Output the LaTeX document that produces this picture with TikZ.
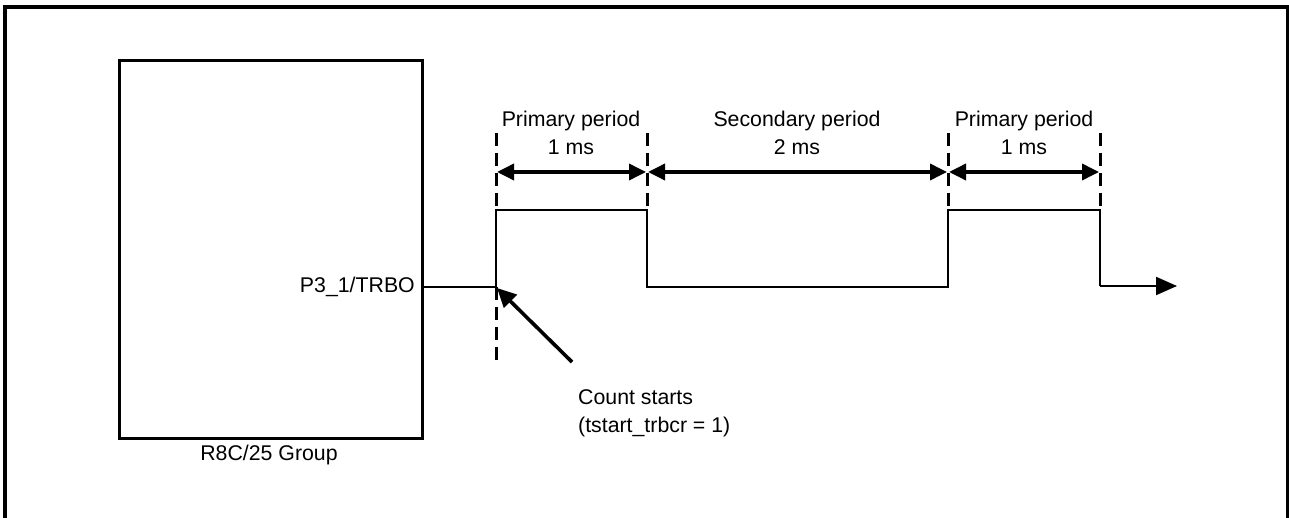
\documentclass[tikz,border=0pt]{standalone}
\usepackage{fontspec}
\setmainfont{Liberation Sans}
\usetikzlibrary{arrows.meta}
\begin{document}
\begin{tikzpicture}[x=1pt,y=-1pt,
  txt/.style={font=\fontsize{21.3}{25}\selectfont, inner sep=0pt},
  sig/.style={line width=2pt},
  dsh/.style={line width=3pt, dash pattern=on 13pt off 7pt},
  dim/.style={line width=3.6pt, {Triangle[length=17pt,width=16pt]}-{Triangle[length=17pt,width=16pt]}},
  ptr/.style={line width=3.6pt, -{Triangle[length=19pt,width=18pt]}}]
\useasboundingbox (0,0) rectangle (1289,518);
% outer frame (open at bottom)
\draw[line width=3.4pt] (5,520) -- (5,7) -- (1288,7) -- (1288,520);
% device box
\node[draw, line width=3pt, minimum width=303pt, minimum height=378pt, inner sep=0pt, anchor=north west] (dev) at (118,59) {};
\node[txt] (devlbl) at (269,455) {R8C/25 Group};
\node[txt, anchor=east] (pin) at (415,287) {P3\_1/TRBO};
% waveform coordinates
\coordinate (p0) at (421,287);
\coordinate (a) at (496,287);
\coordinate (b) at (496,210);
\coordinate (c) at (647,210);
\coordinate (d) at (647,287);
\coordinate (e) at (948,287);
\coordinate (f) at (948,210);
\coordinate (g) at (1100,210);
\coordinate (h) at (1100,286);
\coordinate (end) at (1177,286);
\draw[sig] (p0) -- (a) -- (b) -- (c) -- (d) -- (e) -- (f) -- (g) -- (h);
\draw[sig, -{Triangle[length=21pt,width=18pt]}] (h) -- (end);
% dashed markers
\coordinate (t1) at (496,133);
\coordinate (t2) at (647,133);
\coordinate (t3) at (948,133);
\coordinate (t4) at (1100,133);
\coordinate (lo) at (496,362);
\draw[dsh] (t1) -- (b);
\draw[dsh] (a) -- (lo);
\draw[dsh] (t2) -- (c);
\draw[dsh] (t3) -- (f);
\draw[dsh] (t4) -- (g);
% dimension arrows
\coordinate (m1) at (497,172);
\coordinate (m2) at (646,172);
\coordinate (m3) at (648,172);
\coordinate (m4) at (947,172);
\coordinate (m5) at (949,172);
\coordinate (m6) at (1099,172);
\draw[dim] (m1) -- (m2);
\draw[dim] (m3) -- (m4);
\draw[dim] (m5) -- (m6);
% labels
\node[txt, align=center] (l1) at (571,133) {Primary period\\[3pt]1 ms};
\node[txt, align=center] (l2) at (797,133) {Secondary period\\[3pt]2 ms};
\node[txt, align=center] (l3) at (1024,133) {Primary period\\[3pt]1 ms};
% count starts
\coordinate (cs) at (572,362);
\draw[ptr] (cs) -- (497,288);
\node[txt, anchor=north west, align=left] (cnt) at (578,389) {Count starts\\[3pt](tstart\_trbcr = 1)};
\end{tikzpicture}
\end{document}
